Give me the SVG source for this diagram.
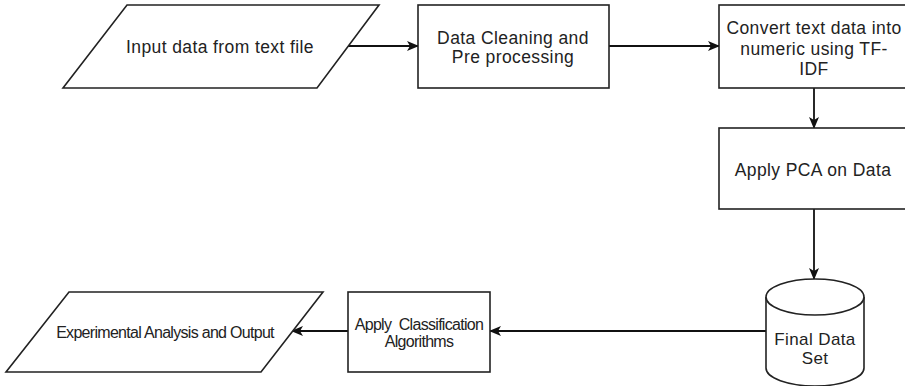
<svg xmlns="http://www.w3.org/2000/svg" width="905" height="386" viewBox="0 0 905 386">
<defs>
<marker id="arr" viewBox="0 0 12 10" refX="11" refY="5" markerWidth="12" markerHeight="10" markerUnits="userSpaceOnUse" orient="auto">
<path d="M0,0 L12,5 L0,10 L3,5 Z" fill="#111"/>
</marker>
</defs>
<style>
.shape{fill:#fff;stroke:#222;stroke-width:1.6}
.con{fill:none;stroke:#111;stroke-width:1.8}
.t1{font-family:"Liberation Sans",Arial,sans-serif;font-size:17.5px;letter-spacing:0.4px;fill:#222;text-anchor:middle}
.t3{font-family:"Liberation Sans",Arial,sans-serif;font-size:17px;letter-spacing:0.4px;fill:#222;text-anchor:middle}
.t2{font-family:"Liberation Sans",Arial,sans-serif;font-size:16px;letter-spacing:-0.7px;fill:#222;text-anchor:middle}
</style>
<rect width="905" height="386" fill="#fff"/>
<g id="connectors">
<line class="con" x1="348" y1="46" x2="418" y2="46" marker-end="url(#arr)"/>
<line class="con" x1="609" y1="46" x2="719" y2="46" marker-end="url(#arr)"/>
<line class="con" x1="814" y1="88" x2="814" y2="128" marker-end="url(#arr)"/>
<line class="con" x1="814" y1="209" x2="814" y2="279" marker-end="url(#arr)"/>
<line class="con" x1="766" y1="331" x2="490" y2="331" marker-end="url(#arr)"/>
<line class="con" x1="348" y1="331" x2="292" y2="331" marker-end="url(#arr)"/>
</g>
<g id="input">
<polygon class="shape" points="127,5 379,5 317,88 63,88"/>
<text class="t1" x="220" y="53">Input data from text file</text>
</g>
<g id="cleaning">
<rect class="shape" x="418" y="5" width="191" height="83"/>
<text class="t1" x="513" y="44">Data Cleaning and</text>
<text class="t1" x="513" y="63">Pre processing</text>
</g>
<g id="tfidf">
<rect class="shape" x="719" y="5" width="195" height="83"/>
<text class="t1" x="814" y="34">Convert text data into</text>
<text class="t1" x="814" y="55">numeric using TF-</text>
<text class="t1" x="814" y="75">IDF</text>
</g>
<g id="pca">
<rect class="shape" x="719" y="128" width="195" height="81"/>
<text class="t1" x="813" y="176">Apply PCA on Data</text>
</g>
<g id="dataset">
<path class="shape" d="M766,297 L766,368 A49,18 0 0 0 864,368 L864,297 A49,18 0 0 0 766,297 Z"/>
<path class="shape" d="M766,297 A49,18 0 0 0 864,297" fill="none"/>
<text class="t3" x="815" y="345">Final Data</text>
<text class="t3" x="815" y="364">Set</text>
</g>
<g id="classification">
<rect class="shape" x="348" y="292" width="142" height="80"/>
<text class="t2" x="419" y="330">Apply&#160; Classification</text>
<text class="t2" x="419" y="347">Algorithms</text>
</g>
<g id="output">
<polygon class="shape" points="69,292 323,292 261,372 6,372"/>
<text class="t2" x="165" y="338">Experimental Analysis and Output</text>
</g>
</svg>
